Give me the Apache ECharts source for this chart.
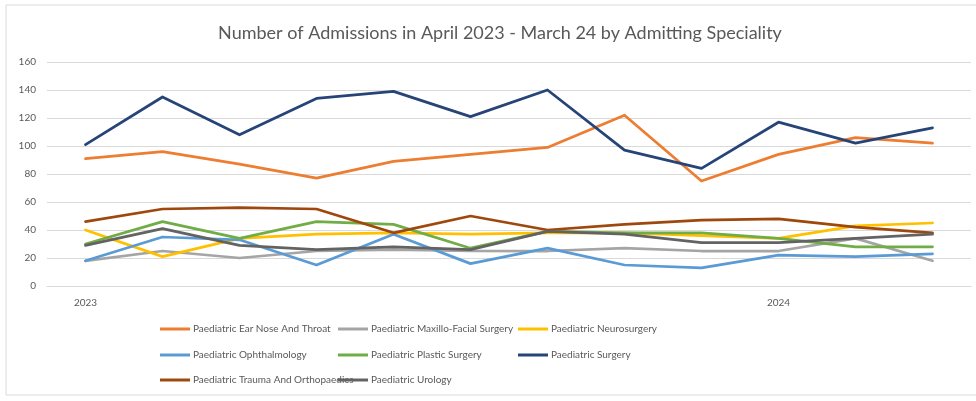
<!DOCTYPE html>
<html>
<head>
<meta charset="utf-8">
<style>
  html, body { margin: 0; padding: 0; background: #ffffff; }
  #chart { width: 976px; height: 401px; }
</style>
<script src="https://cdn.jsdelivr.net/npm/echarts@6/dist/echarts.min.js"></script>
</head>
<body>
<div id="chart"></div>
<script>
// Months April 2023 – March 2024
const months = ['Apr 2023', 'May 2023', 'Jun 2023', 'Jul 2023', 'Aug 2023', 'Sep 2023',
                'Oct 2023', 'Nov 2023', 'Dec 2023', 'Jan 2024', 'Feb 2024', 'Mar 2024'];
// Year labels shown under the axis
const tickLabels = ['2023', '', '', '', '', '', '', '', '', '2024', '', ''];

const yTicks = [0, 20, 40, 60, 80, 100, 120, 140, 160];

// Admissions per month by speciality
const entValues        = [91, 96, 87, 77, 89, 94, 99, 122, 75, 94, 106, 102];
const maxilloValues    = [18, 25, 20, 25, 26, 25, 25, 27, 25, 25, 34, 18];
const neuroValues      = [40, 21, 34, 37, 38, 37, 38, 38, 36, 34, 43, 45];
const ophthValues      = [18, 35, 33, 15, 37, 16, 27, 15, 13, 22, 21, 23];
const plasticValues    = [30, 46, 34, 46, 44, 27, 39, 38, 38, 34, 28, 28];
const surgeryValues    = [101, 135, 108, 134, 139, 121, 140, 97, 84, 117, 102, 113];
const traumaValues     = [46, 55, 56, 55, 38, 50, 40, 44, 47, 48, 42, 38];
const urologyValues    = [29, 41, 29, 26, 28, 26, 39, 37, 31, 31, 34, 37];

const seriesDefs = [
  { name: 'Paediatric Ear Nose And Throat',       data: entValues,     color: '#ED7D31' },
  { name: 'Paediatric Maxillo-Facial Surgery',    data: maxilloValues, color: '#A5A5A5' },
  { name: 'Paediatric Neurosurgery',              data: neuroValues,   color: '#FFC000' },
  { name: 'Paediatric Ophthalmology',             data: ophthValues,   color: '#5B9BD5' },
  { name: 'Paediatric Plastic Surgery',           data: plasticValues, color: '#70AD47' },
  { name: 'Paediatric Surgery',                   data: surgeryValues, color: '#264478' },
  { name: 'Paediatric Trauma And Orthopaedics',   data: traumaValues,  color: '#9E480E' },
  { name: 'Paediatric Urology',                   data: urologyValues, color: '#636363' }
];

// Legend grid: three columns, three rows
const legendCols = [160, 338, 518];
const legendRows = [331, 357, 382];

const fontFamily = 'Lato, "Open Sans", sans-serif';
const textColor = '#595959';

const legends = seriesDefs.map((s, i) => ({
  data: [s.name],
  left: legendCols[i % 3],
  top: legendRows[Math.floor(i / 3)] - 7,
  icon: 'rect',
  itemWidth: 30,
  itemHeight: 3,
  padding: 0,
  textStyle: { color: textColor, fontSize: 10, fontFamily: fontFamily, padding: [0, 0, 0, -2] },
  selectedMode: false
}));

const chart = echarts.init(document.getElementById('chart'), null, { renderer: 'canvas' });

chart.setOption({
  backgroundColor: '#ffffff',
  animation: false,
  title: {
    text: 'Number of Admissions in April 2023 - March 24 by Admitting Speciality',
    left: 495,
    textAlign: 'center',
    top: 19,
    textStyle: { color: textColor, fontSize: 18, fontWeight: 'normal', fontFamily: fontFamily }
  },
  graphic: [{
    type: 'rect',
    shape: { x: 6, y: 5, width: 975, height: 390 },
    style: { fill: 'none', stroke: '#d9d9d9', lineWidth: 1 },
    silent: true,
    z: -1
  }],
  legend: legends,
  grid: { left: 47, right: 5, top: 62, height: 224, containLabel: false },
  xAxis: {
    type: 'category',
    data: months,
    boundaryGap: true,
    axisLine: { show: true, lineStyle: { color: '#d9d9d9', width: 1 } },
    axisTick: { show: false },
    axisLabel: {
      interval: 0,
      color: textColor,
      fontSize: 10,
      fontFamily: fontFamily,
      margin: 12,
      formatter: (v, idx) => tickLabels[idx]
    },
    splitLine: { show: false }
  },
  yAxis: {
    type: 'value',
    min: yTicks[0],
    max: yTicks[yTicks.length - 1],
    interval: yTicks[1] - yTicks[0],
    axisLine: { show: false },
    axisTick: { show: false },
    axisLabel: { color: textColor, fontSize: 10, fontFamily: fontFamily, margin: 11 },
    splitLine: { show: true, lineStyle: { color: '#d9d9d9', width: 1 } }
  },
  series: seriesDefs.map(s => ({
    name: s.name,
    type: 'line',
    data: s.data,
    symbol: 'none',
    smooth: false,
    color: s.color,
    lineStyle: { color: s.color, width: 2.75, cap: 'round', join: 'round' }
  }))
});
</script>
</body>
</html>
